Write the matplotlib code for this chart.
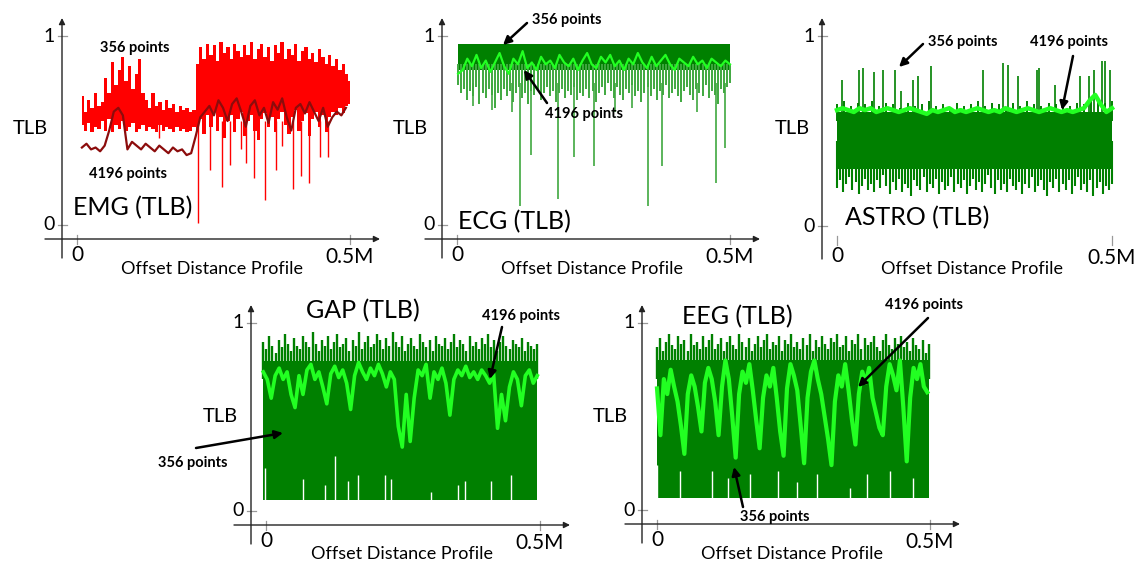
import numpy as np
import matplotlib
matplotlib.use("Agg")
import matplotlib.pyplot as plt

plt.rcParams['font.family'] = ['Lato', 'DejaVu Sans']

W, H = 1139, 563

RED = '#ff0000'
DARKRED = '#8c0c0c'
DKGREEN = '#008000'
LTGREEN = '#22ff22'
MIDGREEN = '#3fa83f'

# ---------------- data (TLB values) ----------------
# EMG: 356-point series as upper / lower envelope, 4196-point series as a line
emg_356_hi = [0.68, 0.60, 0.66, 0.62, 0.70, 0.63, 0.65,
              0.78, 0.70, 0.86, 0.74, 0.82, 0.89, 0.76, 0.84, 0.72, 0.80, 0.88, 0.70,
              0.66, 0.62, 0.70, 0.63, 0.65, 0.61, 0.66, 0.62, 0.64, 0.60, 0.63, 0.61,
              0.62, 0.60, 0.61,
              0.85, 0.94, 0.88, 0.96, 0.90, 0.95, 0.87, 0.97, 0.91, 0.94, 0.88, 0.96,
              0.92, 0.89, 0.95, 0.90, 0.97, 0.88, 0.93, 0.96, 0.89, 0.94, 0.87, 0.95,
              0.91, 0.97, 0.88, 0.93, 0.90, 0.96, 0.87, 0.92, 0.94, 0.88, 0.91, 0.86,
              0.93, 0.89, 0.85, 0.90, 0.84, 0.88, 0.82, 0.85, 0.80, 0.76]
emg_356_lo = [0.53, 0.50, 0.54, 0.49, 0.52, 0.51, 0.55, 0.50, 0.56, 0.49, 0.53,
              0.51, 0.55, 0.50, 0.52, 0.54, 0.49, 0.51, 0.53, 0.50, 0.52, 0.51,
              0.49, 0.53, 0.50, 0.52, 0.51, 0.49, 0.52, 0.50, 0.51, 0.49, 0.50,
              0.52,
              0.50, 0.56, 0.48, 0.58, 0.52, 0.60, 0.50, 0.57, 0.46, 0.55, 0.58,
              0.49, 0.56, 0.60, 0.47, 0.55, 0.58, 0.50, 0.45, 0.56, 0.59, 0.52,
              0.57, 0.49, 0.56, 0.60, 0.53, 0.48, 0.57, 0.61, 0.50, 0.55, 0.59,
              0.47, 0.56, 0.60, 0.52, 0.58, 0.49, 0.57, 0.60, 0.58, 0.62, 0.59,
              0.63, 0.64]
emg_spike_x = [0.442, 0.487, 0.53, 0.56, 0.60, 0.62, 0.65, 0.69, 0.73,
               0.75, 0.79, 0.82, 0.85, 0.89, 0.92, 0.30]
emg_spike_y = [0.01, 0.29, 0.20, 0.32, 0.40, 0.33, 0.25, 0.13, 0.29,
               0.42, 0.19, 0.26, 0.22, 0.36, 0.36, 0.46]
emg_4196 = [0.41, 0.43, 0.40, 0.41, 0.39, 0.42, 0.50, 0.60, 0.62, 0.58,
            0.40, 0.44, 0.42, 0.40, 0.43, 0.41, 0.39, 0.42, 0.40, 0.38,
            0.41, 0.39, 0.40, 0.37, 0.38, 0.47, 0.57, 0.60, 0.63, 0.58,
            0.66, 0.62, 0.55, 0.64, 0.67, 0.60, 0.52, 0.63, 0.66, 0.58,
            0.62, 0.54, 0.65, 0.61, 0.67, 0.57, 0.50, 0.62, 0.64, 0.59,
            0.65, 0.60, 0.55, 0.62, 0.52, 0.57, 0.60, 0.58, 0.62]

# ECG
ecg_356_top = 0.96
ecg_356_core = 0.82
ecg_356_lo = [0.74, 0.70, 0.72, 0.66, 0.71, 0.68, 0.73, 0.64, 0.70, 0.67,
              0.72, 0.69, 0.62, 0.70, 0.66, 0.72, 0.68, 0.71, 0.65, 0.70,
              0.73, 0.67, 0.70, 0.64, 0.71, 0.69, 0.72, 0.66, 0.70, 0.73,
              0.68, 0.71, 0.65, 0.70, 0.72, 0.67, 0.71, 0.69, 0.73, 0.66,
              0.70, 0.68, 0.72, 0.67, 0.71, 0.65, 0.70, 0.73, 0.69, 0.75,
              0.71, 0.67, 0.73, 0.69, 0.66, 0.72, 0.70, 0.74, 0.68, 0.71,
              0.65, 0.70, 0.73, 0.68, 0.72, 0.66, 0.71, 0.69, 0.74, 0.67,
              0.70, 0.72, 0.68, 0.65, 0.71, 0.73, 0.69, 0.66, 0.72, 0.70,
              0.68, 0.74, 0.67, 0.71, 0.69, 0.64, 0.72, 0.70, 0.73, 0.75]
ecg_spike_x = [0.23, 0.27, 0.37, 0.43, 0.50, 0.70, 0.75, 0.95, 0.98,
               0.13, 0.20, 0.06, 0.58, 0.64, 0.88]
ecg_spike_y = [0.10, 0.37, 0.14, 0.36, 0.31, 0.10, 0.31, 0.22, 0.41,
               0.61, 0.60, 0.63, 0.60, 0.62, 0.60]
ecg_4196 = [0.80, 0.82, 0.88, 0.84, 0.90, 0.83, 0.87, 0.81, 0.86, 0.91,
            0.84, 0.80, 0.88, 0.85, 0.92, 0.83, 0.86, 0.82, 0.89, 0.85,
            0.87, 0.83, 0.90, 0.86, 0.84, 0.88, 0.82, 0.87, 0.91, 0.85,
            0.83, 0.89, 0.86, 0.90, 0.84, 0.87, 0.82, 0.88, 0.85, 0.91,
            0.86, 0.83, 0.89, 0.84, 0.87, 0.90, 0.85, 0.82, 0.88, 0.86,
            0.84, 0.89, 0.85, 0.87, 0.83, 0.88, 0.86, 0.84, 0.87, 0.85]

# ASTRO
astro_356_hi = [0.64, 0.66, 0.63, 0.65, 0.64, 0.66, 0.63, 0.65, 0.64, 0.62,
                0.65, 0.63, 0.64, 0.66, 0.63, 0.64, 0.62, 0.65, 0.63, 0.64,
                0.66, 0.63, 0.65, 0.64, 0.62, 0.65, 0.63, 0.66, 0.64, 0.63,
                0.65, 0.64, 0.66, 0.63, 0.65, 0.64, 0.67, 0.66, 0.65, 0.66]
astro_356_core = 0.30
astro_356_lo = [0.20, 0.24, 0.18, 0.22, 0.26, 0.19, 0.23, 0.17, 0.21, 0.25,
                0.19, 0.22, 0.18, 0.24, 0.20, 0.27, 0.21, 0.17, 0.23, 0.19,
                0.25, 0.18, 0.22, 0.20, 0.16, 0.24, 0.21, 0.19, 0.26, 0.18,
                0.22, 0.20, 0.25, 0.17, 0.23, 0.19, 0.21, 0.26, 0.18, 0.22,
                0.20, 0.24, 0.17, 0.21, 0.25, 0.19, 0.23, 0.18, 0.22, 0.27,
                0.20, 0.17, 0.24, 0.19, 0.22, 0.18, 0.25, 0.21, 0.19, 0.23,
                0.17, 0.22, 0.20, 0.26, 0.18, 0.21, 0.24, 0.19, 0.16, 0.23,
                0.20, 0.25, 0.18, 0.22, 0.19, 0.24, 0.17, 0.21, 0.26, 0.19,
                0.22, 0.18, 0.24, 0.16, 0.20, 0.23, 0.17, 0.21, 0.19, 0.22]
astro_spike_x = [0.017, 0.08, 0.096, 0.136, 0.169, 0.211, 0.233, 0.278,
                 0.296, 0.341, 0.530, 0.603, 0.621, 0.657, 0.726, 0.735,
                 0.793, 0.884, 0.916, 0.936, 0.965, 0.975, 0.993]
astro_spike_y = [0.77, 0.82, 0.83, 0.81, 0.82, 0.82, 0.71, 0.77,
                 0.79, 0.84, 0.82, 0.86, 0.85, 0.79, 0.82, 0.83,
                 0.74, 0.79, 0.79, 0.82, 0.87, 0.87, 0.82]
astro_4196 = [0.61, 0.62, 0.61, 0.60, 0.62, 0.61, 0.62, 0.60, 0.61, 0.62,
              0.61, 0.60, 0.61, 0.62, 0.61, 0.60, 0.59, 0.61, 0.60, 0.61,
              0.62, 0.60, 0.61, 0.60, 0.61, 0.62, 0.61, 0.60, 0.61, 0.60,
              0.62, 0.61, 0.60, 0.61, 0.62, 0.61, 0.60, 0.61, 0.62, 0.61,
              0.60, 0.61, 0.60, 0.61, 0.62, 0.66, 0.69, 0.64, 0.60, 0.62]

# GAP
gap_356_hi = [0.90, 0.86, 0.93, 0.88, 0.84, 0.91, 0.87, 0.94, 0.89, 0.85,
              0.92, 0.88, 0.86, 0.93, 0.90, 0.87, 0.95, 0.89, 0.85, 0.91,
              0.88, 0.93, 0.86, 0.90, 0.94, 0.87, 0.89, 0.92, 0.85, 0.91,
              0.88, 0.95, 0.86, 0.90, 0.93, 0.87, 0.89, 0.94, 0.91, 0.86,
              0.92, 0.88, 0.95, 0.90, 0.87, 0.93, 0.85, 0.89, 0.92, 0.88,
              0.86, 0.94, 0.90, 0.87, 0.91, 0.85, 0.93, 0.89, 0.88, 0.92,
              0.86, 0.90, 0.94, 0.87, 0.91, 0.89, 0.85, 0.93, 0.88, 0.90,
              0.86, 0.92, 0.89, 0.94, 0.87, 0.91, 0.85, 0.90, 0.93, 0.88,
              0.86, 0.91, 0.89, 0.87, 0.92, 0.85, 0.90, 0.88, 0.86, 0.89]
gap_356_core = 0.80
gap_356_lo = 0.06
gap_gap_x = [-0.005, 0.135, 0.214, 0.253, 0.299, 0.336, 0.433, 0.455,
             0.603, 0.700, 0.725, 0.822, 0.895]
gap_gap_y = [0.23, 0.17, 0.14, 0.29, 0.16, 0.19, 0.19, 0.17,
             0.10, 0.14, 0.16, 0.16, 0.19]
gap_4196 = [0.74, 0.70, 0.60, 0.72, 0.76, 0.70, 0.74, 0.62, 0.55, 0.72,
            0.62, 0.75, 0.78, 0.70, 0.74, 0.66, 0.57, 0.73, 0.77, 0.71,
            0.75, 0.68, 0.54, 0.72, 0.79, 0.74, 0.70, 0.76, 0.72, 0.78,
            0.73, 0.66, 0.74, 0.70, 0.45, 0.34, 0.62, 0.37, 0.60, 0.75,
            0.72, 0.78, 0.60, 0.74, 0.70, 0.76, 0.68, 0.51, 0.70, 0.75,
            0.72, 0.77, 0.71, 0.74, 0.70, 0.75, 0.72, 0.68, 0.73, 0.44,
            0.62, 0.48, 0.66, 0.74, 0.70, 0.56, 0.72, 0.75, 0.68, 0.72]

# EEG
eeg_356_hi = [0.87, 0.92, 0.85, 0.90, 0.94, 0.88, 0.86, 0.93, 0.89, 0.91,
              0.85, 0.94, 0.88, 0.90, 0.86, 0.93, 0.87, 0.91, 0.94, 0.86,
              0.89, 0.92, 0.85, 0.90, 0.93, 0.88, 0.86, 0.94, 0.90, 0.87,
              0.92, 0.85, 0.89, 0.93, 0.87, 0.91, 0.94, 0.86, 0.90, 0.88,
              0.93, 0.85, 0.91, 0.89, 0.94, 0.87, 0.90, 0.86, 0.92, 0.88,
              0.94, 0.85, 0.91, 0.87, 0.93, 0.89, 0.86, 0.92, 0.90, 0.94,
              0.87, 0.88, 0.93, 0.85, 0.91, 0.89, 0.94, 0.86, 0.92, 0.88,
              0.90, 0.93, 0.87, 0.85, 0.91, 0.94, 0.88, 0.86, 0.92, 0.89,
              0.93, 0.87, 0.90, 0.85, 0.92, 0.88, 0.86, 0.91, 0.84, 0.89]
eeg_356_core = 0.80
eeg_356_lo = 0.065
eeg_gap_x = [0.0, 0.084, 0.20, 0.261, 0.341, 0.444, 0.511, 0.585,
             0.707, 0.768, 0.853, 0.939]
eeg_gap_y = [0.24, 0.21, 0.21, 0.17, 0.19, 0.21, 0.15, 0.19,
             0.12, 0.19, 0.21, 0.17]
eeg_4196 = [0.65, 0.40, 0.70, 0.62, 0.75, 0.66, 0.58, 0.45, 0.30, 0.62,
            0.72, 0.66, 0.55, 0.42, 0.68, 0.76, 0.70, 0.58, 0.40, 0.66,
            0.80, 0.70, 0.50, 0.28, 0.62, 0.74, 0.68, 0.78, 0.64, 0.48,
            0.33, 0.60, 0.72, 0.66, 0.76, 0.60, 0.42, 0.29, 0.65, 0.78,
            0.72, 0.64, 0.45, 0.25, 0.60, 0.74, 0.80, 0.70, 0.62, 0.50,
            0.38, 0.24, 0.58, 0.72, 0.66, 0.78, 0.64, 0.48, 0.35, 0.62,
            0.74, 0.68, 0.76, 0.60, 0.52, 0.44, 0.40, 0.66, 0.78, 0.72,
            0.64, 0.80, 0.55, 0.26, 0.60, 0.76, 0.70, 0.78, 0.66, 0.63]

X_MAX = 0.5  # 0.5M offsets


def xs(vals, f0, f1):
    return np.linspace(f0, f1, len(vals)) * X_MAX


fig = plt.figure(figsize=(W / 100, H / 100), dpi=100)


def panel(box, x0, x05, y0, y1):
    bx0, by0, bx1, by1 = box
    ax = fig.add_axes([bx0 / W, 1 - by1 / H, (bx1 - bx0) / W, (by1 - by0) / H])
    sx = X_MAX / (x05 - x0)
    sy = 1.0 / (y0 - y1)
    ax.set_xlim((bx0 - x0) * sx, (bx1 - x0) * sx)
    ax.set_ylim((y0 - by1) * sy, (y0 - by0) * sy)
    ax.axis('off')
    # axes with arrows
    ya = -15 * sx
    xa = -14 * sy
    ax.annotate('', xy=(ya, 1 + 18 * sy), xytext=(ya, -33 * sy),
                arrowprops=dict(arrowstyle='-|>', color='#222222', lw=1.0,
                                mutation_scale=9, shrinkA=0, shrinkB=0))
    ax.annotate('', xy=(X_MAX + 30 * sx, xa), xytext=(-32 * sx, xa),
                arrowprops=dict(arrowstyle='-|>', color='#222222', lw=1.0,
                                mutation_scale=9, shrinkA=0, shrinkB=0))
    for yv in (0, 1):
        ax.plot([ya - 4 * sx, ya + 5 * sx], [yv, yv], color='#999999', lw=0.9)
    for xv in (0, X_MAX):
        ax.plot([xv, xv], [xa + 4 * sy, xa - 5 * sy], color='#999999', lw=0.9)
    ax.text(ya - 7 * sx, 1, '1', ha='right', va='center', fontsize=14)
    ax.text(ya - 7 * sx, 0, '0', ha='right', va='center', fontsize=14)
    ax.text(0, xa - 16 * sy, '0', ha='center', va='center', fontsize=15)
    ax.text(X_MAX, xa - 18 * sy, '0.5M', ha='center', va='center', fontsize=15)
    return ax


def ftext(px, py, s, **kw):
    fig.text(px / W, 1 - py / H, s, **kw)


def farrow(p0, p1):
    fig.add_artist(matplotlib.patches.FancyArrowPatch(
        (p0[0] / W, 1 - p0[1] / H), (p1[0] / W, 1 - p1[1] / H),
        transform=fig.transFigure, arrowstyle='-|>', mutation_scale=12,
        color='black', lw=1.8, shrinkA=0, shrinkB=0))


def bold(px, py, s):
    ftext(px, py, s, fontsize=10.5, fontweight='bold', ha='left', va='center')


def labels(px_tlb, py_tlb, title, px_t, py_t, px_off, py_off):
    ftext(px_tlb, py_tlb, 'TLB', fontsize=14.5, ha='center', va='center')
    ftext(px_t, py_t, title, fontsize=18, ha='left', va='center')
    ftext(px_off, py_off, 'Offset Distance Profile', fontsize=13,
          ha='center', va='center')


# ---------------- EMG ----------------
ax = panel((0, 0, 385, 285), 77, 350, 225, 36)
x = xs(emg_356_hi, 0.018, 1.0)
ax.fill_between(x, emg_356_lo, emg_356_hi, step='mid', color=RED, lw=0)
ax.vlines(np.array(emg_spike_x) * X_MAX, emg_spike_y, 0.55, color=RED, lw=1.0)
ax.plot(xs(emg_4196, 0.018, 0.985), emg_4196, color=DARKRED, lw=1.6)

labels(30, 129, 'EMG (TLB)', 73, 208, 212, 269)
bold(100, 48, '356 points')
bold(89, 174, '4196 points')

# ---------------- ECG ----------------
ax = panel((385, 0, 765, 285), 457, 730, 225, 36)
x = xs(ecg_356_lo, 0.004, 1.0)
ax.vlines(x, ecg_356_lo, 0.85, color=MIDGREEN, lw=1.4)
ax.vlines(np.array(ecg_spike_x) * X_MAX, ecg_spike_y, 0.75, color=MIDGREEN, lw=1.2)
ax.fill_between(x, ecg_356_core, ecg_356_top, color=DKGREEN, lw=0)
ax.plot(xs(ecg_4196, 0.004, 1.0), ecg_4196, color=LTGREEN, lw=1.6)

labels(410, 129, 'ECG (TLB)', 458, 222, 592, 269)
bold(532, 20, '356 points')
farrow((527, 23), (503, 45))
bold(545, 114, '4196 points')
farrow((547, 103), (524, 70))

# ---------------- ASTRO ----------------
ax = panel((765, 0, 1139, 285), 837, 1112, 226, 36)
ax.vlines(np.array(astro_spike_x) * X_MAX, 0.6, astro_spike_y, color=DKGREEN, lw=1.2)
ax.vlines(xs(astro_356_hi, 0.0, 1.0), 0.55, astro_356_hi, color=DKGREEN, lw=1.4)
x = xs(astro_356_lo, 0.0, 1.0)
ax.vlines(x, astro_356_lo, 0.45, color=DKGREEN, lw=1.5)
ax.fill_between(x, astro_356_core, 0.6, color=DKGREEN, lw=0)
ax.plot(xs(astro_4196, 0.0, 1.0), astro_4196, color=LTGREEN, lw=3.2)

labels(792, 129, 'ASTRO (TLB)', 845, 218, 972, 269)
bold(928, 42, '356 points')
farrow((923, 44), (899, 67))
bold(1030, 42, '4196 points')
farrow((1073, 56), (1062, 110))

# ---------------- GAP ----------------
ax = panel((150, 285, 580, 563), 266, 540, 511, 323)
x = xs(gap_356_hi, -0.01, 0.99)
ax.vlines(x, 0.7, gap_356_hi, color=DKGREEN, lw=1.7)
ax.fill_between(x, gap_356_lo, gap_356_core, color=DKGREEN, lw=0)
ax.vlines(np.array(gap_gap_x) * X_MAX, gap_356_lo, gap_gap_y, color='white', lw=1.0)
ax.plot(xs(gap_4196, -0.01, 0.99), gap_4196, color=LTGREEN, lw=2.6)

labels(220, 417, 'GAP (TLB)', 306, 311, 402, 554)
bold(158, 463, '356 points')
farrow((196, 448), (283, 433))
bold(482, 316, '4196 points')
farrow((502, 327), (490, 379))

# ---------------- EEG ----------------
ax = panel((580, 285, 1000, 563), 657, 930, 510, 323)
x = xs(eeg_356_hi, 0.0, 0.995)
ax.vlines(x, 0.7, eeg_356_hi, color=DKGREEN, lw=1.7)
ax.fill_between(x, eeg_356_lo, eeg_356_core, color=DKGREEN, lw=0)
ax.vlines(np.array(eeg_gap_x) * X_MAX, eeg_356_lo, eeg_gap_y, color='white', lw=1.0)
ax.plot(xs(eeg_4196, 0.0, 0.99), eeg_4196, color=LTGREEN, lw=3.0)

labels(610, 417, 'EEG (TLB)', 682, 317, 792, 554)
bold(885, 305, '4196 points')
farrow((928, 318), (858, 387))
bold(740, 517, '356 points')
farrow((743, 507), (734, 467))

fig.savefig('out.png', dpi=100)
